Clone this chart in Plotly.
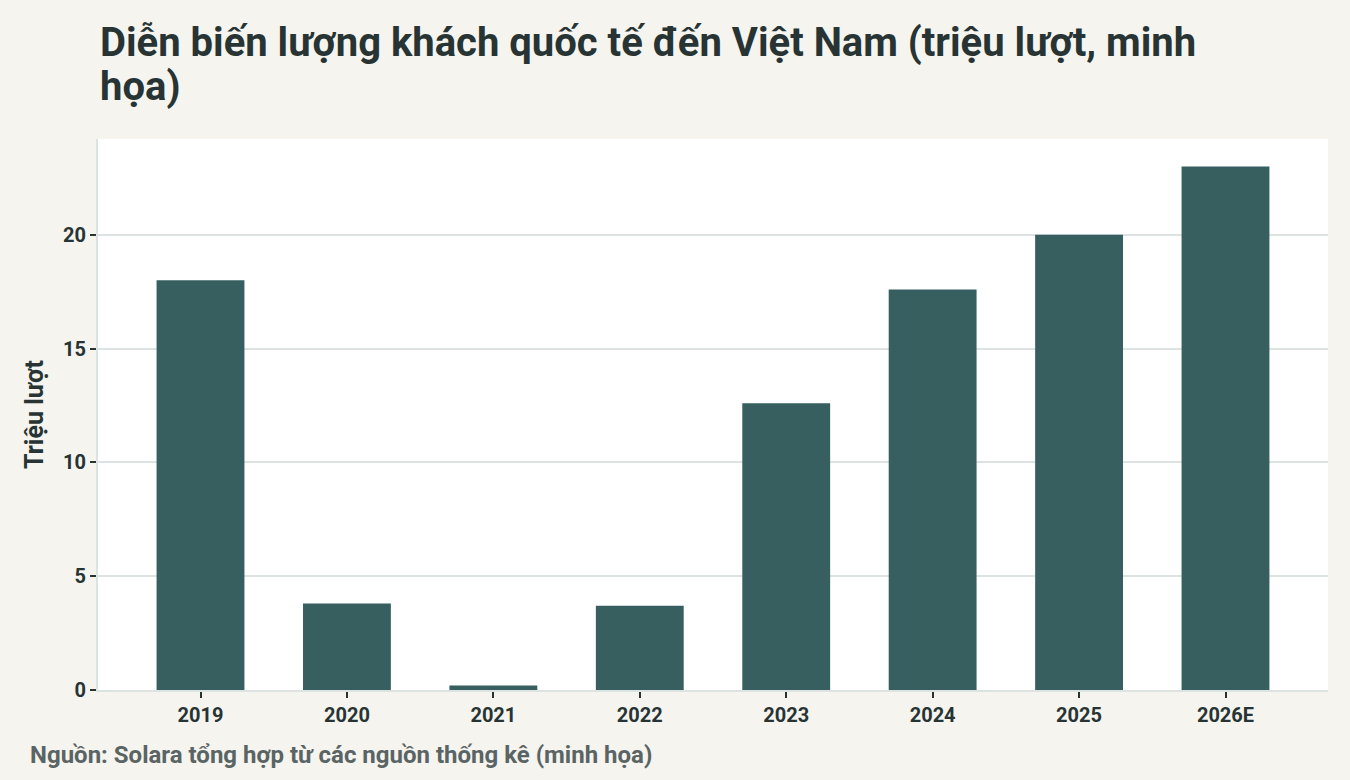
import plotly.graph_objects as go

years = ["2019", "2020", "2021", "2022", "2023", "2024", "2025", "2026E"]
visitors = [18.0, 3.8, 0.2, 3.7, 12.6, 17.6, 20.0, 23.0]

FONT = "Roboto, Noto Sans, sans-serif"
DARK = "#283434"
BAR = "#385f5f"

fig = go.Figure(go.Bar(x=years, y=visitors, marker_color=BAR, marker_line_width=0))

fig.update_layout(
    width=1350, height=780,
    paper_bgcolor="#f5f4ef", plot_bgcolor="#ffffff",
    margin=dict(l=98, r=22, t=139, b=90),
    bargap=0.4,
    showlegend=False,
    font=dict(family=FONT, color=DARK),
)
fig.update_xaxes(
    range=[-0.7, 7.7],
    showline=True, linecolor="#dde3e3", linewidth=2,
    ticks="outside", ticklen=6, tickcolor=DARK, tickwidth=1.5,
    tickfont=dict(size=20, color=DARK, family=FONT),
    showgrid=False,
    tickprefix="<b>", ticksuffix="</b>",
)
fig.update_yaxes(
    showline=True, linecolor="#dde3e3", linewidth=2,
    ticks="outside", ticklen=6, tickcolor=DARK, tickwidth=1.5,
    tickfont=dict(size=20, color=DARK, family=FONT),
    gridcolor="#dde3e3", gridwidth=1.5,
    zeroline=False,
    title=dict(text="<b>Triệu lượt</b>", font=dict(size=25, color=DARK, family=FONT), standoff=12),
    tickprefix="<b>", ticksuffix="</b>",
)

# title, two lines placed separately to keep the tight line spacing
title_lines = ["Diễn biến lượng khách quốc tế đến Việt Nam (triệu lượt, minh", "họa)"]
for i, line in enumerate(title_lines):
    fig.add_annotation(
        text="<b>" + line + "</b>",
        xref="paper", yref="paper", x=0, y=(690 - 17 - 44 * i) / 551,
        xanchor="left", yanchor="top", align="left", showarrow=False,
        font=dict(size=40, color=DARK, family=FONT),
    )
fig.add_annotation(
    text="<b>Nguồn: Solara tổng hợp từ các nguồn thống kê (minh họa)</b>",
    xref="paper", yref="paper", x=-70 / 1230, y=-65 / 551,
    xanchor="left", yanchor="middle", showarrow=False,
    font=dict(size=24, color="#5a6464", family=FONT),
)

fig.write_html("out.html", config={"displayModeBar": False},
               post_script="document.body.style.margin='0';")
